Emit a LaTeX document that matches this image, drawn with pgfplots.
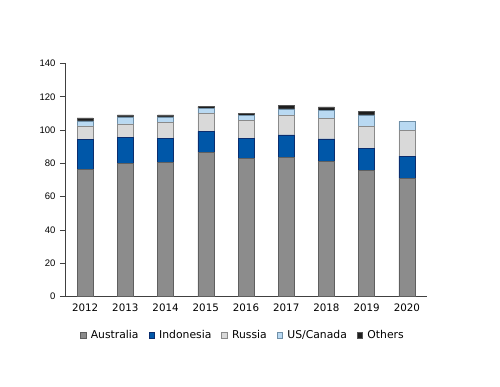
\documentclass[border=0pt]{standalone}
\usepackage{pgfplots}
\pgfplotsset{compat=1.18}
\usepackage{fontspec}
\setmainfont{DejaVu Sans}
\newfontfamily\arialfont{Liberation Sans}
\definecolor{cAus}{HTML}{8C8C8C}
\definecolor{cAusE}{HTML}{5F5F5F}
\definecolor{cIndo}{HTML}{0057A8}
\definecolor{cIndoE}{HTML}{0B2D6E}
\definecolor{cRus}{HTML}{D9D9D9}
\definecolor{cRusE}{HTML}{8A8A8A}
\definecolor{cUS}{HTML}{B9D9F2}
\definecolor{cUSE}{HTML}{7090A8}
\definecolor{cOth}{HTML}{1E1E1E}
\definecolor{cOthE}{HTML}{555555}
\begin{document}
\begin{tikzpicture}[x=1pt,y=1pt]
\path[use as bounding box, fill=white] (0,0) rectangle (500,386);
\begin{axis}[
  at={(65pt,89.4pt)}, anchor=south west,
  scale only axis, width=362pt, height=233.1pt,
  ybar stacked, bar width=16pt,
  xmin=-0.5, xmax=8.5, ymin=0, ymax=140,
  ytick={0,20,...,140},
  xtick={0,...,8},
  xticklabels={2012,2013,2014,2015,2016,2017,2018,2019,2020},
  minor xtick={-0.5,0.5,...,8.5},
  axis x line*=bottom, axis y line*=left,
  axis line style={black!75, line width=0.6pt},
  tick align=outside,
  xtick style={draw=none},
  minor x tick style={black!75, line width=0.6pt},
  minor tick length=4pt,
  major tick length=5pt,
  ytick style={black!75, line width=0.6pt},
  x tick label style={font=\fontsize{10.3}{12}\selectfont, yshift=1pt},
  y tick label style={font=\arialfont\fontsize{9.5}{11}\selectfont, xshift=-1pt},
  /pgf/number format/assume math mode=true,
  legend style={at={(0.4917,-0.1647)}, anchor=center, draw=none, fill=none,
    legend columns=-1, font=\fontsize{10.8}{12}\selectfont, inner sep=0pt,
    /tikz/every odd column/.append style={column sep=2.5pt},
    /tikz/every even column/.append style={column sep=8pt}},
  legend image code/.code={\draw[#1, line width=0.5pt] (0pt,-2.8pt) rectangle (5.6pt,2.8pt);},
  clip=false,
]
\addplot[fill=cAus, draw=cAusE, line width=0.5pt] coordinates {(0,76.2) (1,80.2) (2,80.7) (3,86.8) (4,83.0) (5,83.4) (6,81.4) (7,75.9) (8,71.0)};
\addplot[fill=cIndo, draw=cIndoE, line width=0.5pt] coordinates {(0,18.3) (1,15.5) (2,14.2) (3,12.5) (4,12.1) (5,13.8) (6,13.3) (7,13.2) (8,13.4)};
\addplot[fill=cRus, draw=cRusE, line width=0.5pt] coordinates {(0,8.0) (1,8.0) (2,9.8) (3,10.8) (4,10.8) (5,11.7) (6,12.2) (7,13.2) (8,15.5)};
\addplot[fill=cUS, draw=cUSE, line width=0.5pt] coordinates {(0,3.1) (1,4.3) (2,3.3) (3,3.0) (4,2.8) (5,3.8) (6,5.0) (7,6.8) (8,5.4)};
\addplot[fill=cOth, draw=cOthE, line width=0.5pt] coordinates {(0,1.8) (1,1.1) (2,1.1) (3,1.0) (4,1.4) (5,2.0) (6,2.0) (7,2.0) (8,0)};
\legend{Australia,Indonesia,Russia,US/Canada,Others}
\end{axis}
\end{tikzpicture}
\end{document}
